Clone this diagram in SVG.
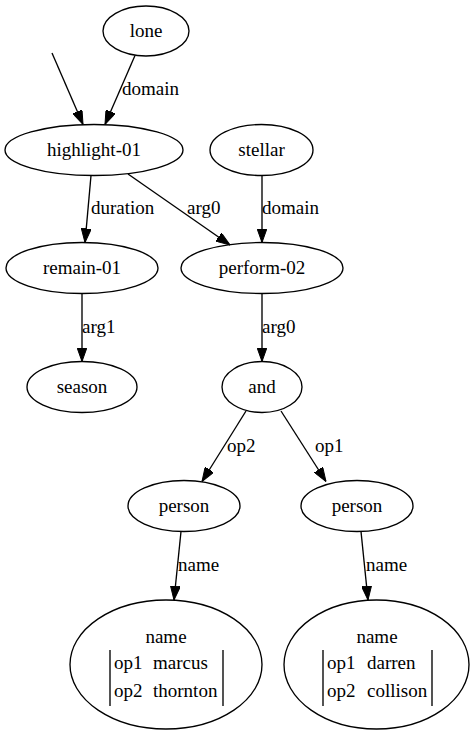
<svg xmlns="http://www.w3.org/2000/svg" width="473" height="735" viewBox="0 0 473 735">
<style>
.n ellipse{fill:none;stroke:#000;stroke-width:1.35}
text{fill:#000;font-family:Liberation Serif,DejaVu Serif,serif;font-size:19px}
.c{text-anchor:middle}
.e line{stroke:#000;stroke-width:1.35;marker-end:url(#a)}
.bar{stroke:#000;stroke-width:1.35}
</style>
<defs>
<marker id="a" viewBox="0 0 14 10" refX="14" refY="5" markerWidth="14" markerHeight="10" markerUnits="userSpaceOnUse" orient="auto">
<path d="M0,0 L14,5 L0,10 z" fill="#000" stroke="#000" stroke-width="1"/>
</marker>
</defs>
<rect width="473" height="735" fill="#fff"/>
<g id="lone" class="n"><ellipse cx="146" cy="31" rx="43" ry="25"/><text class="c" x="146" y="37">lone</text></g>
<g id="highlight-01" class="n"><ellipse cx="94" cy="150" rx="89" ry="25.5"/><text class="c" x="94" y="156">highlight-01</text></g>
<g id="stellar" class="n"><ellipse cx="261.5" cy="150" rx="51.5" ry="25.5"/><text class="c" x="261.5" y="156">stellar</text></g>
<g id="remain-01" class="n"><ellipse cx="82" cy="268" rx="76" ry="25.5"/><text class="c" x="82" y="274">remain-01</text></g>
<g id="perform-02" class="n"><ellipse cx="262" cy="268" rx="81" ry="25.5"/><text class="c" x="262" y="274">perform-02</text></g>
<g id="season" class="n"><ellipse cx="82" cy="387" rx="55" ry="25.5"/><text class="c" x="82" y="393">season</text></g>
<g id="and" class="n"><ellipse cx="262" cy="387" rx="40" ry="25.5"/><text class="c" x="262" y="393">and</text></g>
<g id="person-left" class="n"><ellipse cx="184" cy="506" rx="56" ry="25.5"/><text class="c" x="184" y="512">person</text></g>
<g id="person-right" class="n"><ellipse cx="357" cy="506" rx="56" ry="25.5"/><text class="c" x="357" y="512">person</text></g>
<g id="name-left" class="n"><ellipse cx="166" cy="664.5" rx="96" ry="64.5"/>
<text class="c" x="166" y="643">name</text>
<line class="bar" x1="110" y1="650" x2="110" y2="706"/><line class="bar" x1="223" y1="650" x2="223" y2="706"/>
<text x="114" y="669">op1</text><text x="153" y="669">marcus</text>
<text x="114" y="697">op2</text><text x="153" y="697">thornton</text></g>
<g id="name-right" class="n"><ellipse cx="376.5" cy="664.5" rx="92.5" ry="64.5"/>
<text class="c" x="377" y="643">name</text>
<line class="bar" x1="323" y1="650" x2="323" y2="706"/><line class="bar" x1="432" y1="650" x2="432" y2="706"/>
<text x="327" y="669">op1</text><text x="367" y="669">darren</text>
<text x="327" y="697">op2</text><text x="367" y="697">collison</text></g>
<g id="connectors" class="e">
<line x1="52" y1="53" x2="83" y2="124.5"/>
<line x1="135" y1="55.5" x2="105" y2="124.5"/>
<text x="122" y="95">domain</text>
<line x1="91" y1="175.5" x2="85" y2="242.5"/>
<text x="91" y="214">duration</text>
<line x1="128" y1="174" x2="230" y2="245"/>
<text x="187" y="214">arg0</text>
<line x1="262" y1="175.5" x2="262" y2="242.5"/>
<text x="262" y="214">domain</text>
<line x1="82" y1="293.5" x2="82" y2="361.5"/>
<text x="82" y="333">arg1</text>
<line x1="262" y1="293.5" x2="262" y2="361.5"/>
<text x="262" y="333">arg0</text>
<line x1="246" y1="411" x2="202" y2="481.5"/>
<text x="227" y="452">op2</text>
<line x1="281" y1="411" x2="326" y2="481.5"/>
<text x="315" y="452">op1</text>
<line x1="181" y1="531.5" x2="174" y2="600"/>
<text x="178" y="571">name</text>
<line x1="361" y1="531.5" x2="368" y2="600"/>
<text x="366" y="571">name</text>
</g>
</svg>
